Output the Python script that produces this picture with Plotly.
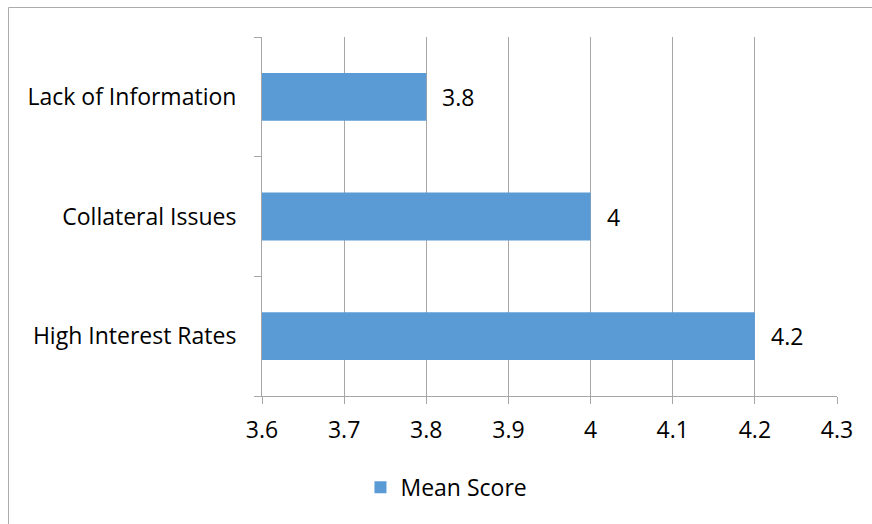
import plotly.graph_objects as go

categories = ["High Interest Rates", "Collateral Issues", "Lack of Information"]
values = [4.2, 4.0, 3.8]
value_labels = ["4.2", "4", "3.8"]
x_ticks = [3.6, 3.7, 3.8, 3.9, 4.0, 4.1, 4.2, 4.3]
x_tick_labels = ["3.6", "3.7", "3.8", "3.9", "4", "4.1", "4.2", "4.3"]
series_name = "Mean Score"

W, H = 872, 524
ml, mr, mt, mb = 262, 35, 37, 128
FONT = "Open Sans"
FS = 23

fig = go.Figure()
fig.add_trace(go.Bar(
    y=categories, x=values, orientation="h", name=series_name,
    marker=dict(color="#5B9BD5", line=dict(width=0)),
    showlegend=True,
))

annotations = [
    dict(x=v, y=c, xref="x", yref="y", text=t, showarrow=False,
         xanchor="left", yanchor="middle", xshift=14,
         font=dict(family=FONT, size=FS, color="#000000"))
    for c, v, t in zip(categories, values, value_labels)
]

pw = W - ml - mr
ph = H - mt - mb
fig.update_layout(
    width=W, height=H,
    margin=dict(l=ml, r=mr, t=mt, b=mb),
    paper_bgcolor="white", plot_bgcolor="white",
    bargap=0.6,
    font=dict(family=FONT, size=FS, color="#000000"),
    showlegend=True,
    legend=dict(orientation="h", xref="container", yref="container",
                x=0.512, y=0.07, xanchor="center", yanchor="middle",
                font=dict(family=FONT, size=FS), itemwidth=30),
    annotations=annotations,
    xaxis=dict(range=[3.6, 4.3], tickvals=x_ticks, ticktext=x_tick_labels,
               showgrid=True, gridcolor="#A6A6A6", gridwidth=1,
               showline=True, linecolor="#A6A6A6", linewidth=1,
               ticks="outside", ticklen=7, tickcolor="#A6A6A6",
               zeroline=False, fixedrange=True, ticklabelstandoff=6,
               tickfont=dict(family=FONT, size=FS)),
    yaxis=dict(showline=True, linecolor="#A6A6A6", linewidth=1,
               ticks="outside", ticklen=7, tickcolor="#A6A6A6",
               tickson="boundaries", showgrid=False, ticklabelstandoff=20,
               tickfont=dict(family=FONT, size=FS),
               categoryorder="array", categoryarray=categories),
    shapes=[dict(type="rect", xref="paper", yref="paper",
                 x0=(8.5 - ml) / pw, x1=(W + 10 - ml) / pw,
                 y0=-(H + 10 - mt - ph) / ph, y1=1 + (mt - 7.5) / ph,
                 line=dict(color="#ABABAB", width=1), layer="below")],
)

fig.write_html("out.html")
